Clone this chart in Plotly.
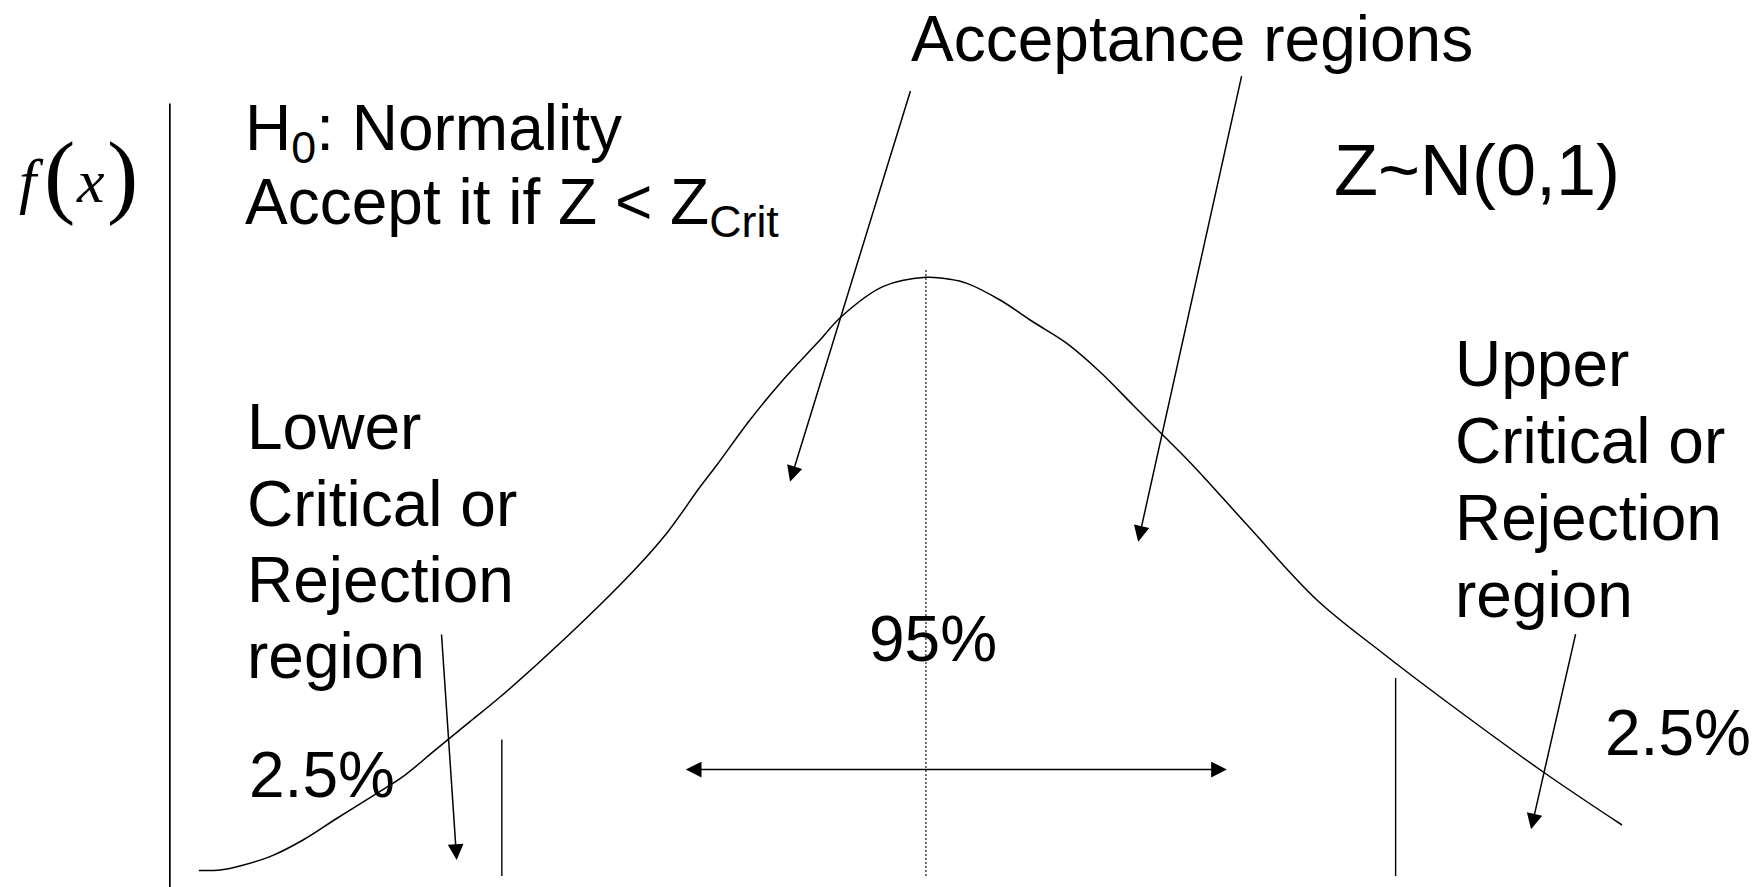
import plotly.graph_objects as go

# ---------------- data ----------------
# curve: z (standard units) vs density f(x)
curve_z = [-3.189, -3.096, -3.022, -2.877, -2.732, -2.583, -2.408, -2.294, -2.154, -2.000,
           -1.868, -1.575, -1.285, -1.136, -0.991, -0.917, -0.772, -0.627, -0.478, -0.368,
           -0.189, 0.000, 0.105, 0.180, 0.325, 0.469, 0.618, 0.763, 0.908, 1.039,
           1.127, 1.202, 1.421, 1.715, 2.004, 2.263, 2.706, 3.053]
curve_density = [0.0037, 0.0040, 0.0062, 0.0129, 0.0240, 0.0385, 0.0551, 0.0662, 0.0837, 0.1029,
                 0.1193, 0.1595, 0.2030, 0.2287, 0.2593, 0.2740, 0.3040, 0.3307, 0.3551, 0.3733,
                 0.3929, 0.3991, 0.3978, 0.3951, 0.3840, 0.3695, 0.3551, 0.3362, 0.3140, 0.2940,
                 0.2807, 0.2687, 0.2320, 0.1840, 0.1485, 0.1185, 0.0695, 0.0340]

# critical values (lower, upper) and the heights of their marker lines
crit_z = [-1.86, 2.06]
crit_top = [0.091, 0.132]

# mean line
mean_z = [0.0, 0.0]
mean_line = [0.0, 0.404]

# y-axis line (position in z units, extent in density units)
axis_z = [-3.316, -3.316]
axis_line = [-0.0074, 0.515]

# arrows: (tail_z, tail_d, tip_z, tip_d)
arrow_tail_z = [-0.066, 1.386, -2.125, 2.851]
arrow_tail_d = [0.5243, 0.5343, 0.162, 0.1622]
arrow_tip_z = [-0.596, 0.931, -2.058, 2.654]
arrow_tip_d = [0.2629, 0.2229, 0.0107, 0.0311]
# double-headed arrow over the 95% area
span_z = [-1.060, 1.320]
span_d = [0.071, 0.071]

W, H = 1757, 887
X_RANGE = [-4.061, 3.645]
Y_RANGE = [-0.00733, 0.584]

fig = go.Figure()

fig.add_trace(go.Scatter(x=curve_z, y=curve_density, mode="lines",
                         line=dict(color="black", width=1.5, shape="spline", smoothing=1.0),
                         hoverinfo="skip", showlegend=False))
for z, top in zip(crit_z, crit_top):
    fig.add_trace(go.Scatter(x=[z, z], y=[0, top], mode="lines",
                             line=dict(color="black", width=1.4),
                             hoverinfo="skip", showlegend=False))
fig.add_trace(go.Scatter(x=mean_z, y=mean_line, mode="lines",
                         line=dict(color="black", width=1.1, dash="2px,2px"),
                         hoverinfo="skip", showlegend=False))
fig.add_trace(go.Scatter(x=axis_z, y=axis_line, mode="lines",
                         line=dict(color="black", width=1.7),
                         hoverinfo="skip", showlegend=False))

annotations = []

# arrows
for tz, td, hz, hd in zip(arrow_tail_z, arrow_tail_d, arrow_tip_z, arrow_tip_d):
    annotations.append(dict(x=hz, y=hd, xref="x", yref="y", ax=tz, ay=td, axref="x", ayref="y",
                            text="", showarrow=True, arrowhead=2, arrowsize=2.1, arrowwidth=1.5,
                            arrowcolor="black", standoff=0, startstandoff=0))
annotations.append(dict(x=span_z[1], y=span_d[1], xref="x", yref="y", ax=span_z[0], ay=span_d[0],
                        axref="x", ayref="y", text="", showarrow=True, arrowhead=2, startarrowhead=2,
                        arrowside="end+start", arrowsize=2.1, startarrowsize=2.1, arrowwidth=1.5,
                        arrowcolor="black", standoff=0, startstandoff=0))

SANS = "Liberation Sans, Arial, sans-serif"
SERIF = "Liberation Serif, Times New Roman, serif"


def label(text, px, baseline, size, family=SANS, asc=0.905):
    top = baseline - asc * size
    annotations.append(dict(text=text, x=px / W, y=1 - top / H, xref="paper", yref="paper",
                            xanchor="left", yanchor="top", showarrow=False, borderpad=0,
                            borderwidth=0, font=dict(family=family, size=size, color="black")))


label("Acceptance regions", 911, 60.5, 64)
label("H<sub>0</sub>: Normality", 245, 150, 64)
label("Accept it if Z &lt; Z<sub>Crit</sub>", 245, 224, 64)
label("Z~N(0,1)", 1334, 195, 72)

for txt, b in zip(["Lower", "Critical or", "Rejection", "region"], [449, 525.5, 601.7, 678]):
    label(txt, 246.5, b, 64)
for txt, b in zip(["Upper", "Critical or", "Rejection", "region"], [386, 463, 540, 617]):
    label(txt, 1455, b, 64)

label("95%", 869, 660.6, 64)
label("2.5%", 249, 796.7, 64)
label("2.5%", 1605, 755, 64)

# f(x) label
label("<i>f</i>", 19, 202, 62, family=SERIF, asc=0.891)
label("(", 44, 206, 94, family=SERIF, asc=0.891)
label("<i>x</i>", 76, 202, 62, family=SERIF, asc=0.891)
label(")", 107, 206, 94, family=SERIF, asc=0.891)

fig.update_layout(
    width=W, height=H,
    margin=dict(l=0, r=0, t=0, b=0),
    paper_bgcolor="white", plot_bgcolor="white",
    xaxis=dict(range=X_RANGE, visible=False, fixedrange=True),
    yaxis=dict(range=Y_RANGE, visible=False, fixedrange=True),
    annotations=annotations,
    showlegend=False,
)

fig.write_html("out.html", config={"displayModeBar": False},
               post_script="document.body.style.margin='0';")
